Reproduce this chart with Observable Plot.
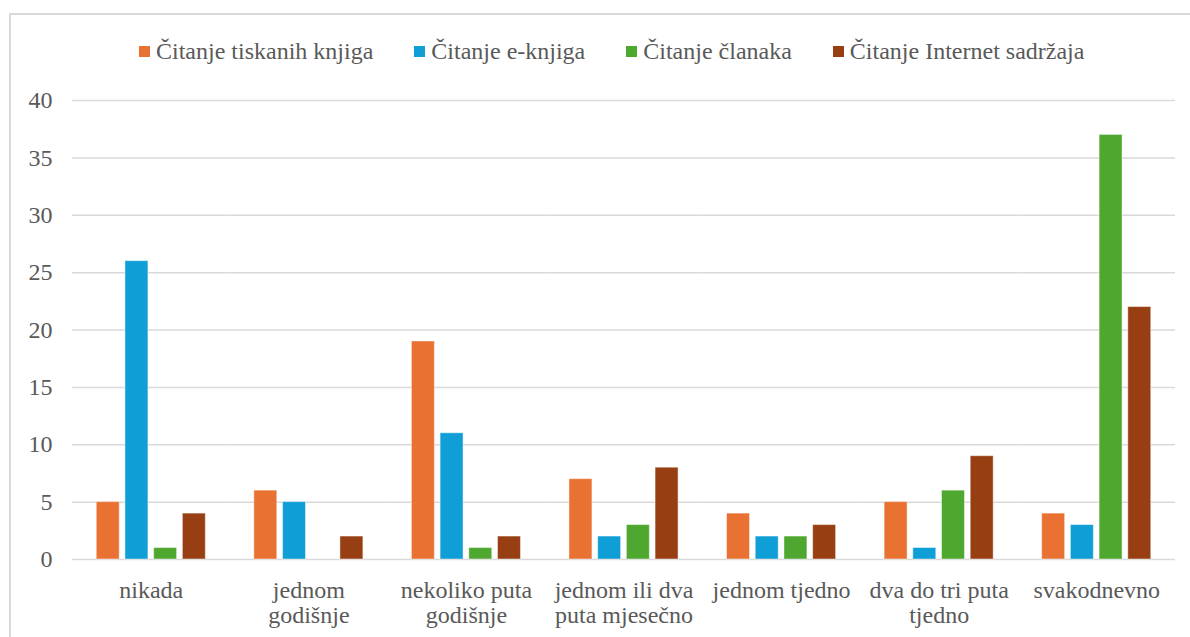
<!DOCTYPE html>
<html>
<head>
<meta charset="utf-8">
<script src="https://cdn.jsdelivr.net/npm/d3@7"></script>
<script src="https://cdn.jsdelivr.net/npm/@observablehq/plot@0.6"></script>
<style>
  html, body { margin: 0; padding: 0; background: #fff; font-family: 'Liberation Serif', serif; }
  #wrap { position: relative; width: 1190px; height: 637px; overflow: hidden; font-family: 'Liberation Serif', serif; color: #595959; }
  #frame { position: absolute; left: 9px; top: 13px; width: 1200px; height: 700px; border: 2px solid #d9d9d9; box-sizing: border-box; pointer-events: none; }
  #legend { height: 86px; box-sizing: border-box; padding-top: 16px; padding-left: 139px; display: flex; align-items: center; gap: 41px; font-size: 24px; font-family: 'Liberation Serif', serif; }
  .item { display: flex; align-items: center; gap: 6px; white-space: nowrap; }
  .sw { width: 11px; height: 11px; display: inline-block; }
  svg { display: block; }
</style>
</head>
<body>
<div id="wrap">
  <div id="frame"></div>
  <div id="legend"></div>
  <div id="chart"></div>
</div>
<script>
const categories = ["nikada", "jednom godišnje", "nekoliko puta godišnje", "jednom ili dva puta mjesečno", "jednom tjedno", "dva do tri puta tjedno", "svakodnevno"];
const categoryLabels = ["nikada", "jednom\ngodišnje", "nekoliko puta\ngodišnje", "jednom ili dva\nputa mjesečno", "jednom tjedno", "dva do tri puta\ntjedno", "svakodnevno"];
const series = ["Čitanje tiskanih knjiga", "Čitanje e-knjiga", "Čitanje članaka", "Čitanje Internet sadržaja"];
const printedBooks = [5, 6, 19, 7, 4, 5, 4];
const eBooks = [26, 5, 11, 2, 2, 1, 3];
const articles = [1, 0, 1, 3, 2, 6, 37];
const internetContent = [4, 2, 2, 8, 3, 9, 22];
const colors = ["#E97132", "#0F9ED5", "#4EA72E", "#973F12"];
const yTicks = [0, 5, 10, 15, 20, 25, 30, 35, 40];

const seriesValues = [printedBooks, eBooks, articles, internetContent];
const data = [];
categories.forEach((c, i) => {
  series.forEach((s, j) => {
    data.push({category: c, series: s, value: seriesValues[j][i]});
  });
});

// Legend
const legend = document.getElementById("legend");
series.forEach((s, j) => {
  const it = document.createElement("div");
  it.className = "item";
  const sw = document.createElement("span");
  sw.className = "sw";
  sw.style.background = colors[j];
  const tx = document.createElement("span");
  tx.textContent = s;
  it.appendChild(sw);
  it.appendChild(tx);
  legend.appendChild(it);
});

const chart = Plot.plot({
  width: 1190,
  height: 551,
  marginLeft: 72,
  marginRight: 15,
  marginTop: 14,
  marginBottom: 78,
  style: {fontFamily: "Liberation Serif", fontSize: "24px", color: "#595959", background: "transparent"},
  fx: {domain: categories, padding: 0, round: false, label: null},
  x: {domain: series, paddingInner: 0.2, paddingOuter: 0.845, round: false, axis: null},
  y: {domain: [0, 40], axis: null, label: null},
  color: {domain: series, range: colors},
  marks: [
    Plot.gridY(yTicks, {stroke: "#d9d9d9", strokeOpacity: 1, strokeWidth: 1.5}),
    Plot.barY(data, {fx: "category", x: "series", y: "value", fill: "series", stroke: "#ffffff", strokeOpacity: 0.45, strokeWidth: 1}),
    Plot.axisY(yTicks, {anchor: "left", tickSize: 0, tickPadding: 20, fontSize: 24, fill: "#595959", label: null}),
    Plot.axisFx({anchor: "bottom", tickSize: 0, tickPadding: 21, fontSize: 24, fill: "#595959", lineHeight: 1.04,
      tickFormat: d => categoryLabels[categories.indexOf(d)], label: null})
  ]
});
document.getElementById("chart").appendChild(chart);
</script>
</body>
</html>
